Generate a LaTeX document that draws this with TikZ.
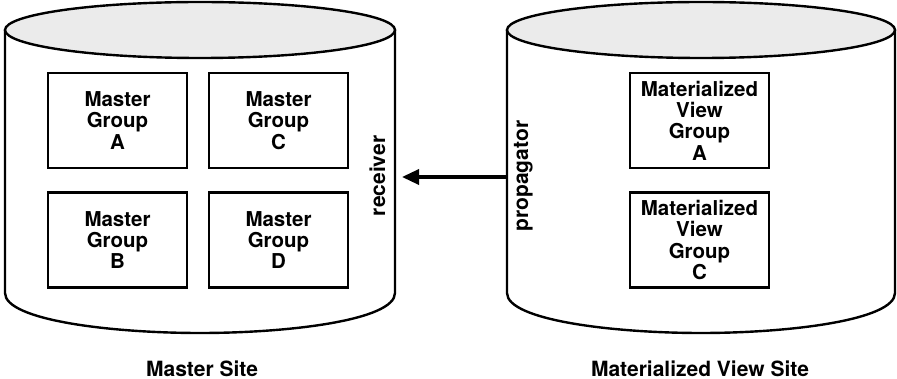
\documentclass[tikz,border=0pt]{standalone}
\usepackage{fontspec}
\setmainfont{TeX Gyre Heros}
\usepackage{tikz}
\usetikzlibrary{arrows.meta}
\definecolor{lidgray}{RGB}{235,235,235}

\begin{document}
\begin{tikzpicture}[x=1pt, y=-1pt, font=\bfseries\fontsize{20.5}{21.3}\selectfont,
  cyl/.style={draw, line width=2.4pt},
  grp/.style={rectangle, draw, line width=2.4pt, align=center, minimum width=139pt, minimum height=95pt, inner sep=0pt},
  site/.style={anchor=base, font=\bfseries\fontsize{21}{22}\selectfont},
  side/.style={rotate=90, anchor=base, font=\bfseries\fontsize{21}{22}\selectfont}]
  \useasboundingbox (0,0) rectangle (897,379);
  % master site
  \draw[cyl, fill=white] (5,30) -- (5,293) .. controls (5,320) and (110,333) .. (200,333) .. controls (290,333) and (395,320) .. (395,293) -- (395,30);
  \draw[cyl, fill=lidgray] (200,30) ellipse [x radius=195, y radius=28];
  \node[grp] (mga) at (117.5,120.5) {Master\\Group\\A};
  \node[grp] (mgc) at (278.5,120.5) {Master\\Group\\C};
  \node[grp] (mgb) at (117.5,240) {Master\\Group\\B};
  \node[grp] (mgd) at (278.5,240) {Master\\Group\\D};
  \node[side] (recv) at (385,176) {receiver};
  \node[site] (msite) at (202,376) {Master Site};
  % materialized view site
  \draw[cyl, fill=white] (507,30) -- (507,293) .. controls (507,320) and (612,333) .. (701,333) .. controls (790,333) and (895,320) .. (895,293) -- (895,30);
  \draw[cyl, fill=lidgray] (701,30) ellipse [x radius=194, y radius=28];
  \node[grp] (mva) at (699.5,120.5) {Materialized\\View\\Group\\A};
  \node[grp] (mvc) at (699.5,240) {Materialized\\View\\Group\\C};
  \node[side] (prop) at (528,176) {propagator};
  \node[site] (mvsite) at (700,376) {Materialized View Site};
  % push
  \coordinate (prop-out) at (507,177);
  \coordinate (recv-in) at (402,177);
  \draw[line width=3.4pt, -{Triangle[length=17pt, width=15pt]}] (prop-out) -- (recv-in);
\end{tikzpicture}
\end{document}
